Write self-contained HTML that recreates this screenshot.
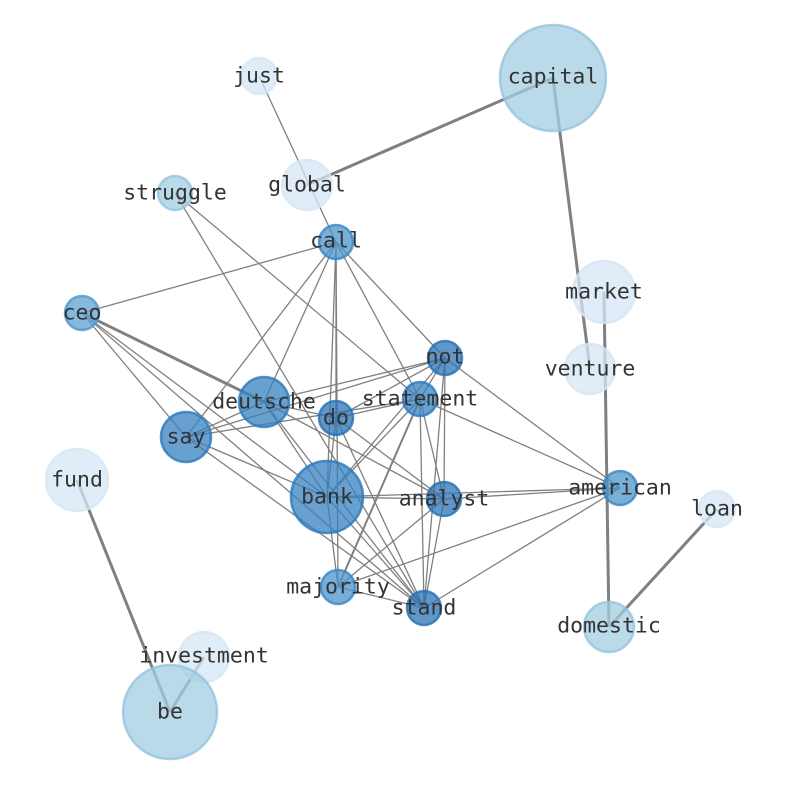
<!DOCTYPE html>
<html><head><meta charset="utf-8"><style>
html,body{margin:0;padding:0;background:#fff;}
svg{display:block;}
text{font-family:"DejaVu Sans Mono","Liberation Mono",monospace;font-size:21.5px;fill:#333;text-anchor:middle;dominant-baseline:central;}
</style></head><body>
<svg width="794" height="790" viewBox="0 0 794 790" xmlns="http://www.w3.org/2000/svg">
<g stroke="#808080" stroke-width="1.3" fill="none">
<line x1="259" y1="76" x2="336" y2="242"/>
<line x1="175" y1="193" x2="420" y2="399"/>
<line x1="175" y1="193" x2="424" y2="608"/>
<line x1="336" y1="242" x2="82" y2="313"/>
<line x1="336" y1="242" x2="186" y2="437"/>
<line x1="336" y1="242" x2="264" y2="402"/>
<line x1="336" y1="242" x2="336" y2="418"/>
<line x1="336" y1="242" x2="327" y2="497"/>
<line x1="336" y1="242" x2="338" y2="587"/>
<line x1="336" y1="242" x2="445" y2="358"/>
<line x1="336" y1="242" x2="420" y2="399"/>
<line x1="82" y1="313" x2="186" y2="437"/>
<line x1="82" y1="313" x2="327" y2="497"/>
<line x1="82" y1="313" x2="424" y2="608"/>
<line x1="445" y1="358" x2="264" y2="402"/>
<line x1="445" y1="358" x2="186" y2="437"/>
<line x1="445" y1="358" x2="336" y2="418"/>
<line x1="445" y1="358" x2="327" y2="497"/>
<line x1="445" y1="358" x2="444" y2="499"/>
<line x1="445" y1="358" x2="424" y2="608"/>
<line x1="445" y1="358" x2="620" y2="488"/>
<line x1="445" y1="358" x2="420" y2="399"/>
<line x1="420" y1="399" x2="186" y2="437"/>
<line x1="420" y1="399" x2="336" y2="418"/>
<line x1="420" y1="399" x2="327" y2="497"/>
<line x1="420" y1="399" x2="444" y2="499"/>
<line x1="420" y1="399" x2="424" y2="608"/>
<line x1="420" y1="399" x2="620" y2="488"/>
<line x1="264" y1="402" x2="327" y2="497"/>
<line x1="264" y1="402" x2="444" y2="499"/>
<line x1="264" y1="402" x2="424" y2="608"/>
<line x1="264" y1="402" x2="336" y2="418"/>
<line x1="186" y1="437" x2="327" y2="497"/>
<line x1="186" y1="437" x2="424" y2="608"/>
<line x1="186" y1="437" x2="264" y2="402"/>
<line x1="336" y1="418" x2="327" y2="497"/>
<line x1="336" y1="418" x2="444" y2="499"/>
<line x1="336" y1="418" x2="424" y2="608"/>
<line x1="327" y1="497" x2="444" y2="499"/>
<line x1="327" y1="497" x2="620" y2="488"/>
<line x1="327" y1="497" x2="424" y2="608"/>
<line x1="327" y1="497" x2="338" y2="587"/>
<line x1="444" y1="499" x2="620" y2="488"/>
<line x1="444" y1="499" x2="338" y2="587"/>
<line x1="444" y1="499" x2="424" y2="608"/>
<line x1="620" y1="488" x2="338" y2="587"/>
<line x1="620" y1="488" x2="424" y2="608"/>
<line x1="338" y1="587" x2="424" y2="608"/>
</g>
<g stroke="#808080" stroke-width="2" fill="none">
<line x1="420" y1="399" x2="338" y2="587"/>
</g>
<g stroke="#808080" stroke-width="3" fill="none">
<line x1="553" y1="78" x2="307" y2="185"/>
<line x1="553" y1="78" x2="590" y2="369"/>
<line x1="604" y1="292" x2="609" y2="627"/>
<line x1="609" y1="627" x2="717" y2="509"/>
<line x1="77" y1="480" x2="170" y2="712"/>
<line x1="204" y1="657" x2="170" y2="712"/>
<line x1="82" y1="313" x2="264" y2="402"/>
</g>
<g stroke-width="2.5" fill-opacity="0.75" stroke-opacity="0.8">
<circle cx="259" cy="76" r="18" fill="#d6e6f4" stroke="#d6e6f4"/>
<circle cx="553" cy="78" r="53" fill="#a3cde3" stroke="#93c4de"/>
<circle cx="307" cy="185" r="25" fill="#d6e6f4" stroke="#d6e6f4"/>
<circle cx="175" cy="193" r="17" fill="#a3cde3" stroke="#93c4de"/>
<circle cx="336" cy="242" r="17" fill="#4a94cc" stroke="#3a85c4"/>
<circle cx="82" cy="313" r="17" fill="#5ca2d2" stroke="#4b96cc"/>
<circle cx="604" cy="292" r="31" fill="#d6e6f4" stroke="#d6e6f4"/>
<circle cx="590" cy="369" r="25" fill="#d6e6f4" stroke="#d6e6f4"/>
<circle cx="445" cy="358" r="17" fill="#2b74b6" stroke="#2470b3"/>
<circle cx="264" cy="402" r="25" fill="#3580c0" stroke="#2b78bb"/>
<circle cx="420" cy="399" r="17" fill="#3580c0" stroke="#2b78bb"/>
<circle cx="336" cy="418" r="17" fill="#2b74b6" stroke="#2470b3"/>
<circle cx="186" cy="437" r="25" fill="#3580c0" stroke="#2b78bb"/>
<circle cx="77" cy="480" r="31" fill="#d6e6f4" stroke="#d6e6f4"/>
<circle cx="327" cy="497" r="36" fill="#3580c0" stroke="#2b78bb"/>
<circle cx="444" cy="499" r="17" fill="#2b74b6" stroke="#2470b3"/>
<circle cx="620" cy="488" r="17" fill="#4a94cc" stroke="#3a85c4"/>
<circle cx="717" cy="509" r="18" fill="#d6e6f4" stroke="#d6e6f4"/>
<circle cx="338" cy="587" r="17" fill="#4a94cc" stroke="#3a85c4"/>
<circle cx="424" cy="608" r="17" fill="#2b74b6" stroke="#2470b3"/>
<circle cx="609" cy="627" r="25" fill="#a3cde3" stroke="#93c4de"/>
<circle cx="204" cy="657" r="25" fill="#d6e6f4" stroke="#d6e6f4"/>
<circle cx="170" cy="712" r="47" fill="#a3cde3" stroke="#93c4de"/>
</g>
<g>
<text x="259" y="76">just</text>
<text x="553" y="77">capital</text>
<text x="307" y="185">global</text>
<text x="175" y="193">struggle</text>
<text x="336" y="241">call</text>
<text x="82" y="313">ceo</text>
<text x="604" y="292">market</text>
<text x="590" y="369">venture</text>
<text x="445" y="357">not</text>
<text x="264" y="402">deutsche</text>
<text x="420" y="399">statement</text>
<text x="336" y="418">do</text>
<text x="186" y="437">say</text>
<text x="77" y="480">fund</text>
<text x="327" y="497">bank</text>
<text x="444" y="499">analyst</text>
<text x="620" y="488">american</text>
<text x="717" y="509">loan</text>
<text x="338" y="587">majority</text>
<text x="424" y="608">stand</text>
<text x="609" y="626">domestic</text>
<text x="204" y="656">investment</text>
<text x="170" y="712">be</text>
</g>
</svg>
</body></html>
